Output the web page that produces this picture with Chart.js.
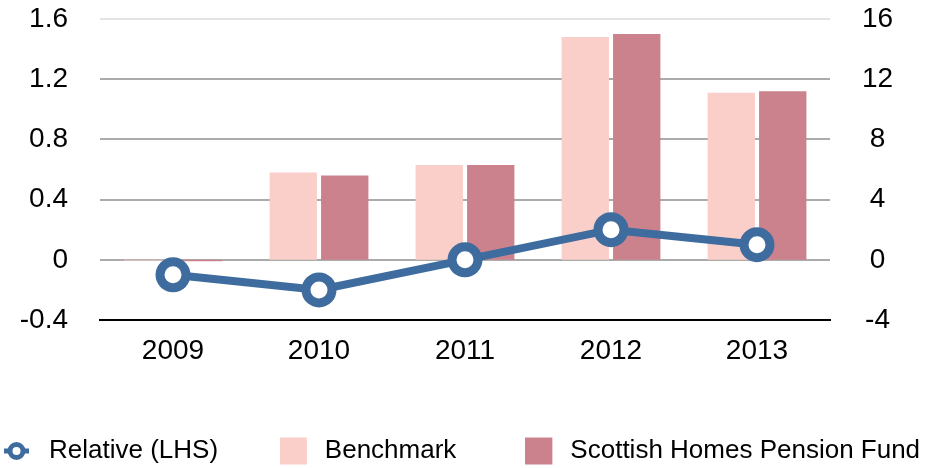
<!DOCTYPE html>
<html>
<head>
<meta charset="utf-8">
<script src="https://cdn.jsdelivr.net/npm/chart.js@4"></script>
<style>
    html, body { margin: 0; padding: 0; background: #fff; overflow: hidden; }
</style>
</head>
<body>
<canvas id="myBarChart" width="936" height="468"></canvas>
<script>
// データ
const years = ["2009", "2010", "2011", "2012", "2013"];
const relativeValues = [-0.1, -0.2, 0, 0.2, 0.1];
const benchmarkValues = [-0.05, 5.8, 6.3, 14.8, 11.1];
const fundValues = [-0.1, 5.6, 6.3, 15.0, 11.2];
const leftTicks = [-0.4, 0, 0.4, 0.8, 1.2, 1.6];
const rightTicks = [-4, 0, 4, 8, 12, 16];

const lineColor = "#3E6C9E";
const benchmarkColor = "#FBCFC9";
const fundColor = "#CB828D";
const fontFamily = "'Liberation Sans', Arial, Helvetica, sans-serif";

/**
 * 凡例用の小さな画像を作る関数
 *
 * @param {string} kind - 'line' または 'box'
 * @param {string} color - 色
 * @returns {HTMLCanvasElement}
 */
function makeLegendIcon(kind, color) {
    const c = document.createElement('canvas');
    c.width = 32;
    c.height = 30;
    const g = c.getContext('2d');
    if (kind === 'line') {
        g.strokeStyle = color;
        g.lineWidth = 5;
        g.beginPath();
        g.moveTo(0, 15);
        g.lineTo(25, 15);
        g.stroke();
        g.fillStyle = '#fff';
        g.beginPath();
        g.arc(12.5, 15, 6.5, 0, Math.PI * 2);
        g.fill();
        g.stroke();
    } else {
        g.fillStyle = color;
        g.fillRect(0, 1.5, 27, 27);
    }
    return c;
}

/**
 * 縦軸の幅を固定し、目盛りの余白がグラフ領域を押し下げないようにする
 */
function fixYAxis(width) {
    return function (scale) {
        scale.width = width;
        scale.paddingTop = 0;
        scale.paddingBottom = 0;
    };
}

const legendIcons = [
    makeLegendIcon('line', lineColor),
    makeLegendIcon('box', benchmarkColor),
    makeLegendIcon('box', fundColor)
];
// 凡例の間隔は末尾の空白で調整
const legendGaps = ["        ", "         ", ""];

// 凡例を少し下へずらす
const legendNudge = {
    id: 'legendNudge',
    afterLayout(chart) {
        chart.legend.top += 6;
        chart.legend.bottom += 6;
    }
};

var ctx = document.getElementById("myBarChart");
var myBarChart = new Chart(ctx, {
    type: 'bar',
    data: {
        labels: years,
        datasets: [{
            type: 'line',
            label: 'Relative (LHS)',
            data: relativeValues,
            yAxisID: 'y',
            order: 0,
            borderColor: lineColor,
            borderWidth: 8,
            pointRadius: 13,
            pointBorderWidth: 9,
            pointBackgroundColor: '#fff',
            pointBorderColor: lineColor,
            tension: 0
        }, {
            label: 'Benchmark',
            data: benchmarkValues,
            yAxisID: 'y1',
            order: 1,
            backgroundColor: benchmarkColor,
            barPercentage: 0.92,
            categoryPercentage: 0.705
        }, {
            label: 'Scottish Homes Pension Fund',
            data: fundValues,
            yAxisID: 'y1',
            order: 1,
            backgroundColor: fundColor,
            barPercentage: 0.92,
            categoryPercentage: 0.705
        }]
    },
    options: {
        responsive: false,
        animation: false,
        layout: {
            autoPadding: false,
            padding: { top: 19, left: 0, right: 0, bottom: 0 }
        },
        plugins: {
            tooltip: { enabled: false },
            legend: {
                position: 'bottom',
                align: 'start',
                labels: {
                    usePointStyle: true,
                    pointStyleWidth: 32,
                    padding: 4,
                    color: '#000',
                    font: { family: fontFamily, size: 26 },
                    generateLabels: function (chart) {
                        return chart.data.datasets.map((ds, i) => ({
                            text: ds.label + legendGaps[i],
                            pointStyle: legendIcons[i],
                            fillStyle: 'transparent',
                            strokeStyle: 'transparent',
                            lineWidth: 0,
                            hidden: false,
                            datasetIndex: i
                        }));
                    }
                }
            }
        },
        scales: {
            x: {
                offset: true,
                grid: { display: false },
                border: { display: true, color: '#000', width: 2 },
                ticks: {
                    color: '#000',
                    padding: 6,
                    font: { family: fontFamily, size: 28 }
                },
                afterFit: function (scale) {
                    scale.height = 108;
                }
            },
            y: {
                position: 'left',
                min: leftTicks[0],
                max: leftTicks[leftTicks.length - 1],
                afterBuildTicks: function (scale) {
                    scale.ticks = leftTicks.map(v => ({ value: v }));
                },
                grid: {
                    drawTicks: false,
                    lineWidth: 2,
                    color: c => (c.tick && c.tick.value === 1.6) ? '#e4e4e4' : '#ababab'
                },
                border: { display: false },
                ticks: {
                    color: '#000',
                    padding: 32,
                    font: { family: fontFamily, size: 28 },
                    callback: v => String(Math.round(v * 10) / 10)
                },
                afterFit: fixYAxis(100)
            },
            y1: {
                position: 'right',
                min: rightTicks[0],
                max: rightTicks[rightTicks.length - 1],
                afterBuildTicks: function (scale) {
                    scale.ticks = rightTicks.map(v => ({ value: v }));
                },
                grid: { display: false, drawTicks: false },
                border: { display: false },
                ticks: {
                    color: '#000',
                    padding: 32,
                    crossAlign: 'center',
                    font: { family: fontFamily, size: 28 }
                },
                afterFit: fixYAxis(106)
            }
        }
    },
    plugins: [legendNudge]
});
</script>
</body>
</html>
